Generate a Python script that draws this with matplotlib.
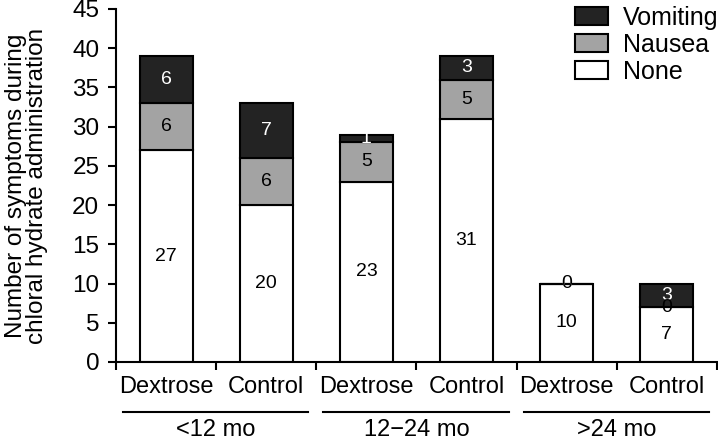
import matplotlib; matplotlib.use("Agg")
import matplotlib.pyplot as plt
import numpy as np

plt.rcParams["font.family"] = ["Liberation Sans", "DejaVu Sans"]

# data
groups = ["<12 mo", "12\u221224 mo", ">24 mo"]
arms = ["Dextrose", "Control", "Dextrose", "Control", "Dextrose", "Control"]
none_vals = [27, 20, 23, 31, 10, 7]
nausea_vals = [6, 6, 5, 5, 0, 0]
vomit_vals = [6, 7, 1, 3, 0, 3]

C_NONE, C_NAUS, C_VOM = "white", "#a3a3a3", "#232323"
W = 0.53; LW = 1.5

fig = plt.figure(figsize=(7.18, 4.42), dpi=100)
ax = fig.add_axes([116/718, 1-362/442, 601/718, 353/442])
x = np.arange(len(arms))
none_a, naus_a, vom_a = map(np.array, (none_vals, nausea_vals, vomit_vals))

b0 = ax.bar(x, none_a, W, color=C_NONE, edgecolor="black", lw=LW, label="None")
b1 = ax.bar(x, naus_a, W, bottom=none_a, color=C_NAUS, edgecolor="black", lw=LW, label="Nausea")
b2 = ax.bar(x, vom_a, W, bottom=none_a+naus_a, color=C_VOM, edgecolor="black", lw=LW, label="Vomiting")

# segment labels (vomiting first so nausea 0 sits on top)
for i in range(len(arms)):
    ax.text(x[i], none_a[i] + naus_a[i] + vom_a[i]/2, str(vom_a[i]), ha="center", va="center",
            color="white", fontsize=14)
    ax.text(x[i], none_a[i] + naus_a[i]/2, str(naus_a[i]), ha="center", va="center",
            color="black", fontsize=14)
    ax.text(x[i], none_a[i]/2, str(none_a[i]), ha="center", va="center", color="black", fontsize=14)

ax.set_ylim(0, 45); ax.set_xlim(-0.5, 5.5)
ax.set_yticks(range(0, 46, 5))
ax.tick_params(axis="y", labelsize=17.5, length=6, width=1.5, pad=6)
ax.set_xticks(np.arange(-0.5, 6, 1.0))
ax.set_xticklabels([])
ax.tick_params(axis="x", which="major", length=6, width=1.5)
ax.set_xticks(x, minor=True)
ax.set_xticklabels(arms, minor=True, fontsize=17)
ax.tick_params(axis="x", which="minor", length=0, pad=10)
for s in ("top", "right"):
    ax.spines[s].set_visible(False)
for s in ("left", "bottom"):
    ax.spines[s].set_linewidth(1.5)

ax.set_ylabel("Number of symptoms during\nchloral hydrate administration", fontsize=17.5,
              linespacing=0.95)
ax.yaxis.set_label_coords(-0.113, 0.5)

tr = ax.get_xaxis_transform()
for g, lab in enumerate(groups):
    c = 2*g + 0.5
    ax.plot([c-0.93, c+0.92], [-0.1416, -0.1416], color="black", lw=1.5, transform=tr, clip_on=False)
    ax.text(c, -0.193, lab, ha="center", va="center", fontsize=17, transform=tr)

ax.legend([b2, b1, b0], ["Vomiting", "Nausea", "None"], loc="upper left",
          bbox_to_anchor=(575/718, 1-6/442), bbox_transform=fig.transFigure, frameon=False,
          fontsize=18, handlelength=1.32, handleheight=0.72, handletextpad=0.6,
          labelspacing=0.12, borderpad=0, borderaxespad=0)

fig.savefig("out.png", dpi=100)
